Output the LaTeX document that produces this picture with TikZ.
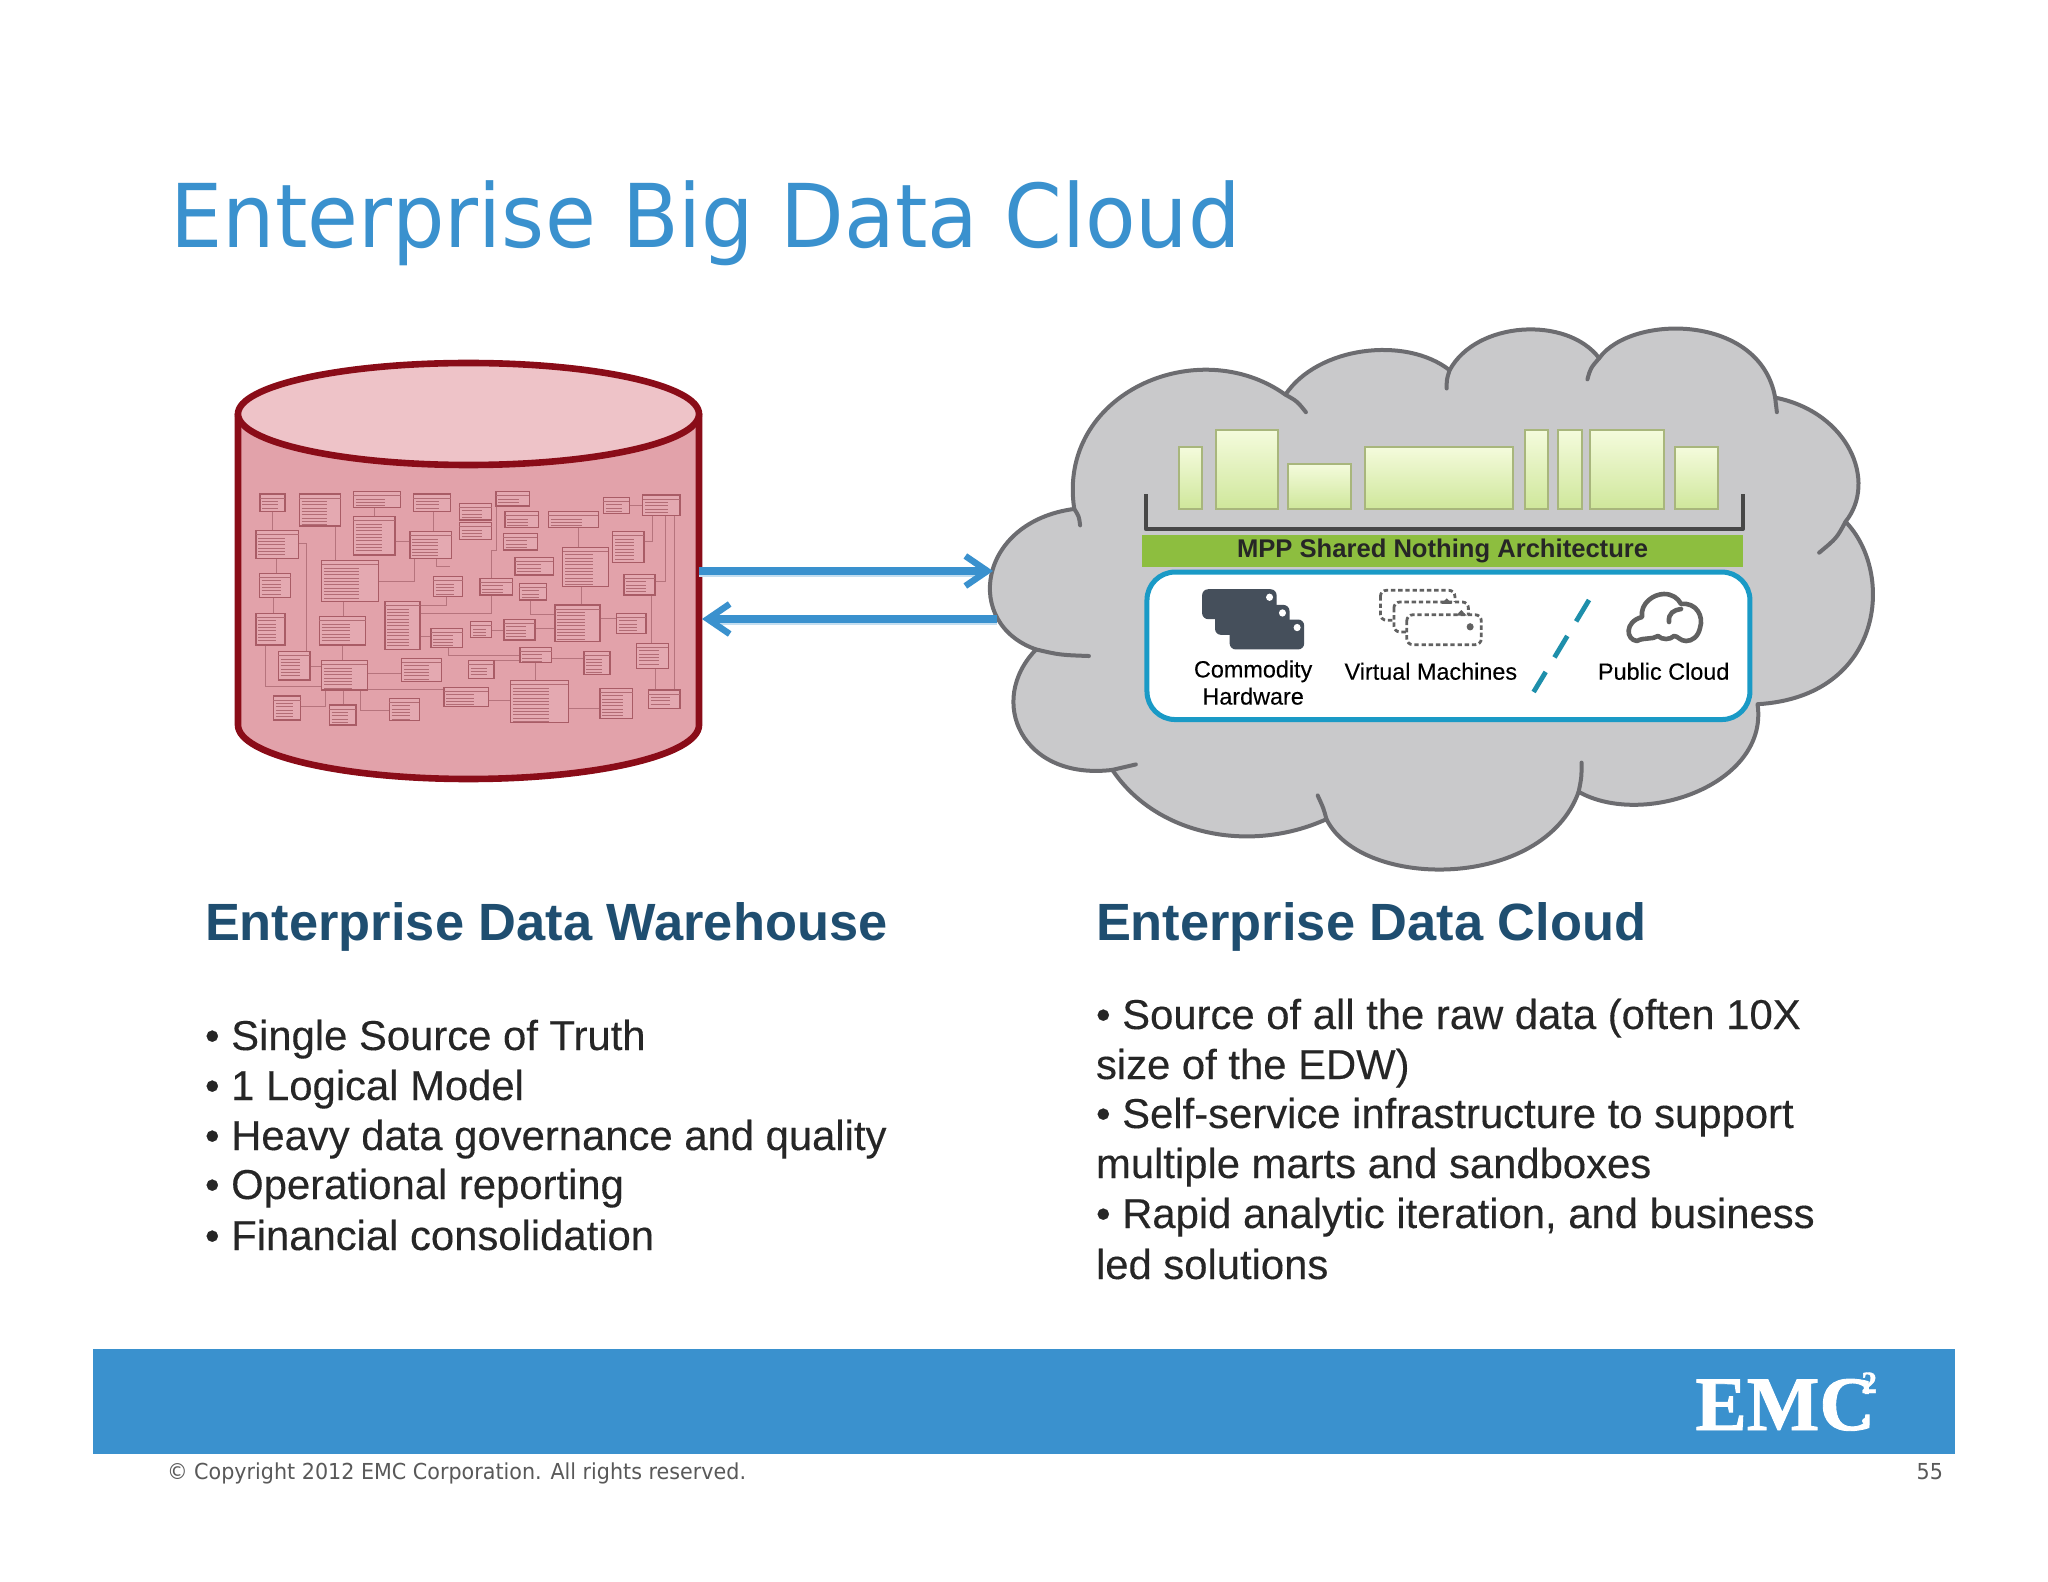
\documentclass[tikz,border=0pt]{standalone}
\usepackage{fontspec}
\setmainfont{Liberation Sans}
\newfontfamily\titlefont[FakeStretch=0.94]{DejaVu Sans}
\newfontfamily\logofont[BoldFeatures={FakeBold=1.2}]{Liberation Serif}
\newfontfamily\semilight[FakeBold=0.25]{Liberation Sans}
\usetikzlibrary{arrows.meta}
\definecolor{emcblue}{HTML}{3A91CE}
\definecolor{headblue}{HTML}{1F4E70}
\definecolor{bodytxt}{HTML}{262626}
\definecolor{cylline}{HTML}{8A0C18}
\definecolor{cylside}{HTML}{E2A2AA}
\definecolor{cyltop}{HTML}{EEC3C8}
\definecolor{erline}{HTML}{A95C66}
\definecolor{cloudfill}{HTML}{C9C9CB}
\definecolor{cloudline}{HTML}{6C6C70}
\definecolor{bartop}{HTML}{F4FBDC}
\definecolor{barbot}{HTML}{CFE79B}
\definecolor{barline}{HTML}{A8B67C}
\definecolor{bandgreen}{HTML}{8DBE3F}
\definecolor{panelline}{HTML}{1A9AC6}
\definecolor{slash}{HTML}{1E8FAB}
\definecolor{iconDark}{HTML}{454F5B}
\tikzset{
  txt/.style={inner sep=0pt,outer sep=0pt,anchor=base west,text=bodytxt,font=\semilight\fontsize{20.9}{24}\selectfont},
  head/.style={inner sep=0pt,outer sep=0pt,anchor=base west,text=headblue,font=\bfseries\fontsize{26.2}{30}\selectfont},
  small/.style={inner sep=0pt,outer sep=0pt,anchor=center,text=black,font=\semilight\fontsize{11.7}{14}\selectfont},
  foot/.style={inner sep=0pt,outer sep=0pt,text=black!65,font=\titlefont\fontsize{11}{13}\selectfont},
  erbox/.style={draw=erline,line width=0.55pt,fill=cylside!92!white},
  errow/.style={draw=erline!90,line width=0.5pt},
  erlink/.style={draw=erline!85,line width=0.45pt},
  barbox/.style={draw=barline,line width=1pt,top color=bartop,bottom color=barbot},
  biglink/.style={draw=emcblue,line width=3.6pt,-{Straight Barb[length=11pt,width=15pt,line width=3.2pt]}},
  bigshadow/.style={draw=emcblue!30,line width=3.6pt},
  lobe/.style={draw=cloudline,line width=2pt,line cap=round},
}
\begin{document}
\begin{tikzpicture}[x=0.5pt,y=-0.5pt]
\useasboundingbox (0,0) rectangle (2048,1582);
\fill[white] (0,0) rectangle (2048,1582);

% title
\node[inner sep=0pt,anchor=base west,text=emcblue,font=\titlefont\fontsize{44}{50}\selectfont] (title) at (170,248) {Enterprise Big Data Cloud};

% cylinder
\path[fill=cylside,draw=cylline,line width=3.3pt,line join=round]
  (238,414) -- (238,725) arc[start angle=180,end angle=0,x radius=230.5,y radius=54] -- (699,414) -- cycle;
\path[fill=cyltop,draw=cylline,line width=3.3pt] (468.5,414) ellipse[x radius=230.5,y radius=51];

% ER model on the cylinder
\begin{scope}[shift={(220,340)},scale=1/3]
\foreach \pa/\pb/\pc/\pd in {158/515/158/572,168/655/168/700,160/772/160/820,345/558/345/662,462/502/462/530,525/605/570/605,640/515/640/575,370/785/370/830,368/915/368/962,600/890/633/890,815/870/852/870,945/865/1005/865,1075/562/1075/622,1085/740/1085/795,1140/835/1190/835,1228/497/1268/497,1295/765/1295/910,1305/985/1305/1050,270/980/305/980,442/1000/545/1000,822/962/900/962,995/955/1092/955,945/968/945/1022,442/1048/672/1048,805/1082/872/1082,1045/1105/1140/1105,370/1050/370/1095,1362/527/1362/1050,815/715/815/630,600/820/815/820,815/820/815/765}
  {\draw[erlink] (\pa,\pb) -- (\pc,\pd);}
\foreach \pa/\pb/\pc/\pd/\pe/\pf in {135/915/135/1040/305/1040,236/610/258/610/258/935,475/725/582/725/582/655,680/770/680/795/600/795,932/780/932/822/1005/822,1298/527/1298/603/1272/603,1335/527/1335/725/1305/725,685/922/685/945/900/945,315/1050/315/1100/242/1100,422/1050/422/1110/508/1110,650/655/650/680/690/680,815/630/830/630/830/500}
  {\draw[erlink] (\pa,\pb) -- (\pc,\pd) -- (\pe,\pf);}
\foreach \ba/\bb/\bc/\bd in {120/462/195/515,238/462/362/558,400/455/542/502,400/530/525/645,580/462/692/515,718/490/815/540,718/548/815/598,828/455/928/498,855/515/955/562,850/580/952/630,985/515/1135/562,1150/472/1228/520,1268/465/1380/527,108/572/236/655,570/575/695/655,1178/575/1272/668,1028/622/1165/740,885/652/1000/705,305/662/475/785,118/700/212/772,640/710/728/770,780/715/878/765,898/730/980/780,1212/703/1305/765,108/820/195/915,298/830/437/915,495/785/600/928,1005/795/1140/905,1190/820/1278/880,633/865/728/922,752/845/815/892,852/838/945/900,900/922/995/968,1092/935/1170/1003,1250/910/1345/985,175/935/270/1020,305/962/442/1050,545/955/665/1025,745/962/822/1015,672/1042/805/1100,872/1022/1045/1148,1140/1045/1238/1135,1285/1050/1380/1105,160/1068/242/1140,328/1095/408/1155,508/1075/598/1142}
{
  \draw[erbox] (\ba,\bb) rectangle (\bc,\bd);
  \draw[errow] (\ba,\bb+13) -- (\bc,\bb+13);
  \pgfmathsetmacro\rowcount{int((\bd-\bb-16)/10)}
  \foreach \rw in {1,...,\rowcount}
    {\draw[errow] (\ba+7,\bb+13+\rw*10) -- (\ba+7+0.62*\bc-0.62*\ba,\bb+13+\rw*10);}
}
\end{scope}

% cloud
\begin{scope}[shift={(980.4,310)},xscale=0.5865,yscale=0.365]
\path[fill=cloudfill,draw=cloudline,line width=2pt,line join=round]
  (160,545) .. controls (130,230) and (370,60) .. (520,232)
  .. controls (575,100) and (725,70) .. (800,165)
  .. controls (845,30) and (1000,15) .. (1055,132)
  .. controls (1110,10) and (1330,10) .. (1355,240)
  .. controls (1480,280) and (1530,470) .. (1475,580)
  .. controls (1560,720) and (1540,1060) .. (1325,1080)
  .. controls (1345,1300) and (1130,1420) .. (1020,1320)
  .. controls (960,1590) and (650,1590) .. (590,1395)
  .. controls (460,1490) and (300,1440) .. (225,1260)
  .. controls (70,1290) and (10,1070) .. (95,930)
  .. controls (-30,860) and (-5,580) .. (160,545) -- cycle;
\draw[lobe] (160,545) .. controls (168,565) .. (170,590);
\draw[lobe] (520,232) .. controls (540,250) .. (555,280);
\draw[lobe] (800,165) .. controls (795,190) .. (795,215);
\draw[lobe] (1055,132) .. controls (1040,160) .. (1035,190);
\draw[lobe] (1355,240) .. controls (1358,260) .. (1358,280);
\draw[lobe] (1475,580) .. controls (1460,625) .. (1430,665);
\draw[lobe] (1020,1320) .. controls (1025,1280) .. (1025,1240);
\draw[lobe] (590,1395) .. controls (585,1365) .. (575,1330);
\draw[lobe] (225,1260) .. controls (245,1255) .. (265,1245);
\draw[lobe] (95,930) .. controls (135,945) .. (185,948);

% bars
\foreach \ba/\bb/\bc in {338/375/378,402/330/507,525/422/632,655/375/908,928/330/968,985/330/1025,1040/330/1165,1185/375/1258}
  {\path[barbox] (\ba,\bb) rectangle (\bc,545);}
\draw[draw=black!72,line width=2pt,line join=round] (282,505) -- (282,600) -- (1300,600) -- (1300,505);
\node[fill=bandgreen,inner sep=0pt,minimum width=300.5pt,minimum height=16pt,anchor=center,text=black!85,font=\bfseries\fontsize{12.8}{15}\selectfont] (band) at (788,660) {MPP Shared Nothing Architecture};

% panel
\path[fill=white,draw=panelline,line width=2.5pt,rounded corners=14pt] (284,718) rectangle (1312,1122);

% commodity hardware icon
\foreach \ba/\bb in {378/765,400/808,425/848}
{
  \path[fill=iconDark,rounded corners=3pt] (\ba,\bb) rectangle (\ba+127,\bb+82);
  \fill[white] (\ba+115,\bb+22) ellipse[x radius=6,y radius=10];
}
% virtual machines icon
\foreach \ba/\bb in {682/768,705/800,727/835}
{
  \path[fill=white,draw=black!62,line width=1.4pt,dash pattern=on 2.2pt off 1.4pt,rounded corners=3pt] (\ba,\bb) rectangle (\ba+127,\bb+82);
}
\fill[black!62] (835,868) ellipse[x radius=6,y radius=10];
\fill[black!62] (795,790) -- (804,805) -- (786,805) -- cycle;
\fill[black!62] (820,822) -- (829,837) -- (811,837) -- cycle;

\node[small] (lblA) at (465,990) {Commodity};
\node[small] (lblB) at (465,1058) {Hardware};
\node[small] (lblC) at (768,990) {Virtual Machines};
\node[small] (lblD) at (1165,990) {Public Cloud};
\end{scope}

% slash
\draw[slash,line width=2.4pt,dash pattern=on 12.5pt off 8.5pt] (1589,600) -- (1533.6,692);

% public cloud icon
\draw[black!62,line width=2.3pt,line join=round,fill=white]
  (1637,641) .. controls (1626,640) and (1624,622) .. (1642,617)
  .. controls (1640,603) and (1654,594) .. (1664,594)
  .. controls (1672,594) and (1678,598) .. (1681,604)
  .. controls (1696,602) and (1704,616) .. (1700,628)
  .. controls (1698,637) and (1692,641) .. (1686,641)
  .. controls (1680,641) and (1678,636) .. (1674,636)
  .. controls (1670,640) and (1662,640) .. (1658,636)
  .. controls (1652,640) and (1644,637) .. (1637,641) -- cycle;
\draw[black!62,line width=2.3pt,line cap=round] (1669,622) .. controls (1668,613) and (1674,610) .. (1681,609);

% arrows between warehouse and cloud
\coordinate (cylA) at (699,571);
\coordinate (cloudA) at (993,571);
\coordinate (cloudB) at (997,619);
\coordinate (cylB) at (702,619);
\draw[bigshadow] ([yshift=-1.2pt]cylA) -- ([xshift=-5pt,yshift=-1.2pt]cloudA);
\draw[bigshadow] ([yshift=-1.2pt]cloudB) -- ([xshift=5pt,yshift=-1.2pt]cylB);
\draw[biglink] (cylA) -- (cloudA);
\draw[biglink] (cloudB) -- (cylB);

% left text
\node[head] (hl) at (205,940) {Enterprise Data Warehouse};
\node[txt] (l1) at (205,1050) {• Single Source of Truth};
\node[txt] (l2) at (205,1100) {• 1 Logical Model};
\node[txt] (l3) at (205,1150) {• Heavy data governance and quality};
\node[txt] (l4) at (205,1199) {• Operational reporting};
\node[txt] (l5) at (205,1250) {• Financial consolidation};

% right text
\node[head] (hr) at (1096,940) {Enterprise Data Cloud};
\node[txt] (r1) at (1096,1029) {• Source of all the raw data (often 10X};
\node[txt] (r2) at (1096,1079) {size of the EDW)};
\node[txt] (r3) at (1096,1128) {• Self-service infrastructure to support};
\node[txt] (r4) at (1096,1178) {multiple marts and sandboxes};
\node[txt] (r5) at (1096,1228) {• Rapid analytic iteration, and business};
\node[txt] (r6) at (1096,1279) {led solutions};

% footer
\fill[emcblue] (93,1349) rectangle (1955,1454);
\node[inner sep=0pt,anchor=base west,text=white,font=\logofont\bfseries\fontsize{38.5}{42}\selectfont] (logo) at (1695,1430) {EMC};
\node[inner sep=0pt,anchor=base west,text=white,font=\logofont\bfseries\fontsize{15.5}{16}\selectfont] (logotwo) at (1861,1393) {2};
\fill[white] (1865,1421) circle[radius=3];
\node[foot,anchor=base west] (copy) at (167,1479) {© Copyright 2012 EMC Corporation. All rights reserved.};
\node[foot,anchor=base east] (page) at (1943,1479) {55};
\end{tikzpicture}
\end{document}
